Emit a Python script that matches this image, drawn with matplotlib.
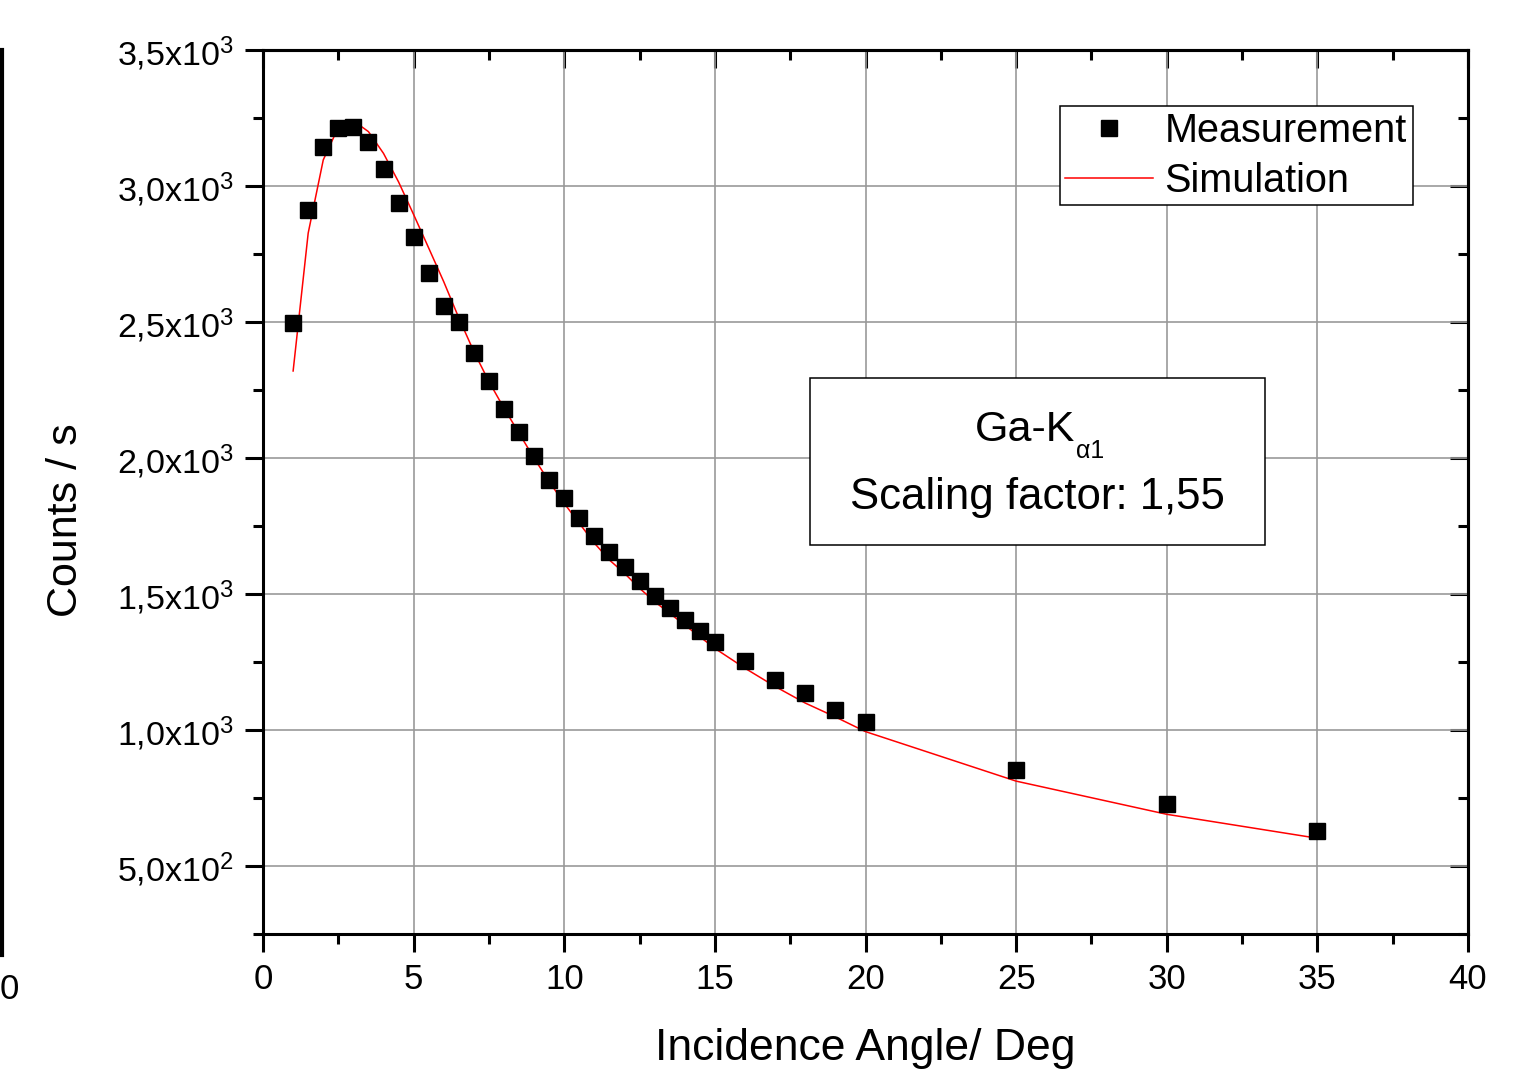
import matplotlib
matplotlib.use("Agg")
import matplotlib.pyplot as plt
from matplotlib.patches import Rectangle
from matplotlib.lines import Line2D

plt.rcParams['font.family'] = ['Liberation Sans', 'DejaVu Sans']
plt.rcParams['mathtext.fontset'] = 'custom'
plt.rcParams['mathtext.rm'] = 'Liberation Sans'
plt.rcParams['mathtext.it'] = 'Liberation Sans'

# measured counts per second vs incidence angle
angle = [1, 1.5, 2, 2.5, 3, 3.5, 4, 4.5, 5, 5.5, 6, 6.5, 7, 7.5, 8, 8.5, 9, 9.5,
         10, 10.5, 11, 11.5, 12, 12.5, 13, 13.5, 14, 14.5, 15, 16, 17, 18, 19, 20,
         25, 30, 35]
measured = [2496, 2912, 3143, 3213, 3217, 3162, 3062, 2937, 2812, 2680, 2559, 2500,
            2386, 2283, 2180, 2096, 2007, 1919, 1853, 1780, 1713, 1654, 1599, 1548,
            1493, 1449, 1404, 1364, 1324, 1254, 1184, 1136, 1074, 1029,
            853, 728, 629]
simulated = [2320, 2827, 3096, 3216, 3240, 3200, 3120, 3015, 2895, 2772, 2648, 2515,
             2391, 2281, 2183, 2091, 1999, 1913, 1833, 1760, 1687, 1625, 1576, 1521,
             1472, 1429, 1386, 1343, 1300, 1227, 1160, 1099, 1048, 994,
             812, 690, 602]

xticks = [0, 5, 10, 15, 20, 25, 30, 35, 40]
yticks = [500, 1000, 1500, 2000, 2500, 3000, 3500]
ytick_labels = ['5,0x10$^2$', '1,0x10$^3$', '1,5x10$^3$', '2,0x10$^3$',
                '2,5x10$^3$', '3,0x10$^3$', '3,5x10$^3$']

fig = plt.figure(figsize=(15.15, 10.83), dpi=100)
ax = fig.add_axes([0.1736, 0.1376, 0.7954, 0.8162])

ax.plot(angle, simulated, color='red', lw=1.1, label='Simulation', zorder=3)
ax.plot(angle, measured, ls='none', marker='s', ms=11, color='black',
        label='Measurement', zorder=4)

ax.set_xlim(0, 40)
ax.set_ylim(250, 3500)
ax.set_xticks(xticks)
ax.set_xticks([2.5 + 5 * i for i in range(8)], minor=True)
ax.set_yticks(yticks)
ax.set_yticklabels(ytick_labels)
ax.set_yticks([250 + 500 * i for i in range(7)], minor=True)

ax.grid(True, which='major', color='#999999', lw=1.2)
ax.set_axisbelow(True)
for s in ax.spines.values():
    s.set_linewidth(2.2)

ax.tick_params(which='major', direction='out', length=13, width=2.2, pad=8)
ax.tick_params(which='minor', direction='out', length=7, width=2.2)
ax.tick_params(axis='x', labelsize=25)
ax.tick_params(axis='y', labelsize=24.5, pad=8)

# inward ticks on top and right
top = ax.secondary_xaxis('top')
top.set_xticks(xticks)
top.set_xticks([2.5 + 5 * i for i in range(8)], minor=True)
top.tick_params(which='major', direction='in', length=13, width=2.2, labeltop=False)
top.tick_params(which='minor', direction='in', length=7, width=2.2)
top.spines['top'].set_linewidth(2.2)
right = ax.secondary_yaxis('right')
right.set_yticks(yticks)
right.set_yticks([250 + 500 * i for i in range(7)], minor=True)
right.tick_params(which='major', direction='in', length=13, width=2.2, labelright=False)
right.tick_params(which='minor', direction='in', length=7, width=2.2)
right.spines['right'].set_linewidth(2.2)

ax.set_xlabel('Incidence Angle/ Deg', fontsize=32)
ax.xaxis.set_label_coords(0.5, -0.106)
ax.set_ylabel('Counts / s', fontsize=31)
ax.yaxis.set_label_coords(-0.147, 0.468)

h, l = ax.get_legend_handles_labels()
leg = ax.legend(h[::-1], l[::-1], loc='upper right', bbox_to_anchor=(0.954, 0.937),
                borderaxespad=0, fontsize=28.5, fancybox=False, framealpha=1,
                edgecolor='black', handlelength=2.2, handletextpad=0.3,
                borderpad=0.15, labelspacing=0.3)
leg.get_frame().set_linewidth(1.1)

ax.add_patch(Rectangle((0.454, 0.440), 0.3775, 0.189, transform=ax.transAxes,
                       facecolor='white', edgecolor='black', lw=1.1, zorder=5))
ax.text(0.674, 0.570, 'Ga-K', transform=ax.transAxes,
        ha='right', va='center', fontsize=31, zorder=6)
ax.text(0.675, 0.546, 'α1', transform=ax.transAxes,
        ha='left', va='center', fontsize=18, zorder=6)
ax.text(0.643, 0.494, 'Scaling factor: 1,55', transform=ax.transAxes,
        ha='center', va='center', fontsize=31.5, zorder=6)

# cropped remnant of a neighbouring panel on the left edge
fig.add_artist(Line2D([0.0015, 0.0015], [0.118, 0.954], color='black', lw=3,
                      transform=fig.transFigure))
fig.text(0.0, 0.086, '0', fontsize=25, ha='left', va='center')

fig.savefig('out.png', dpi=100)
